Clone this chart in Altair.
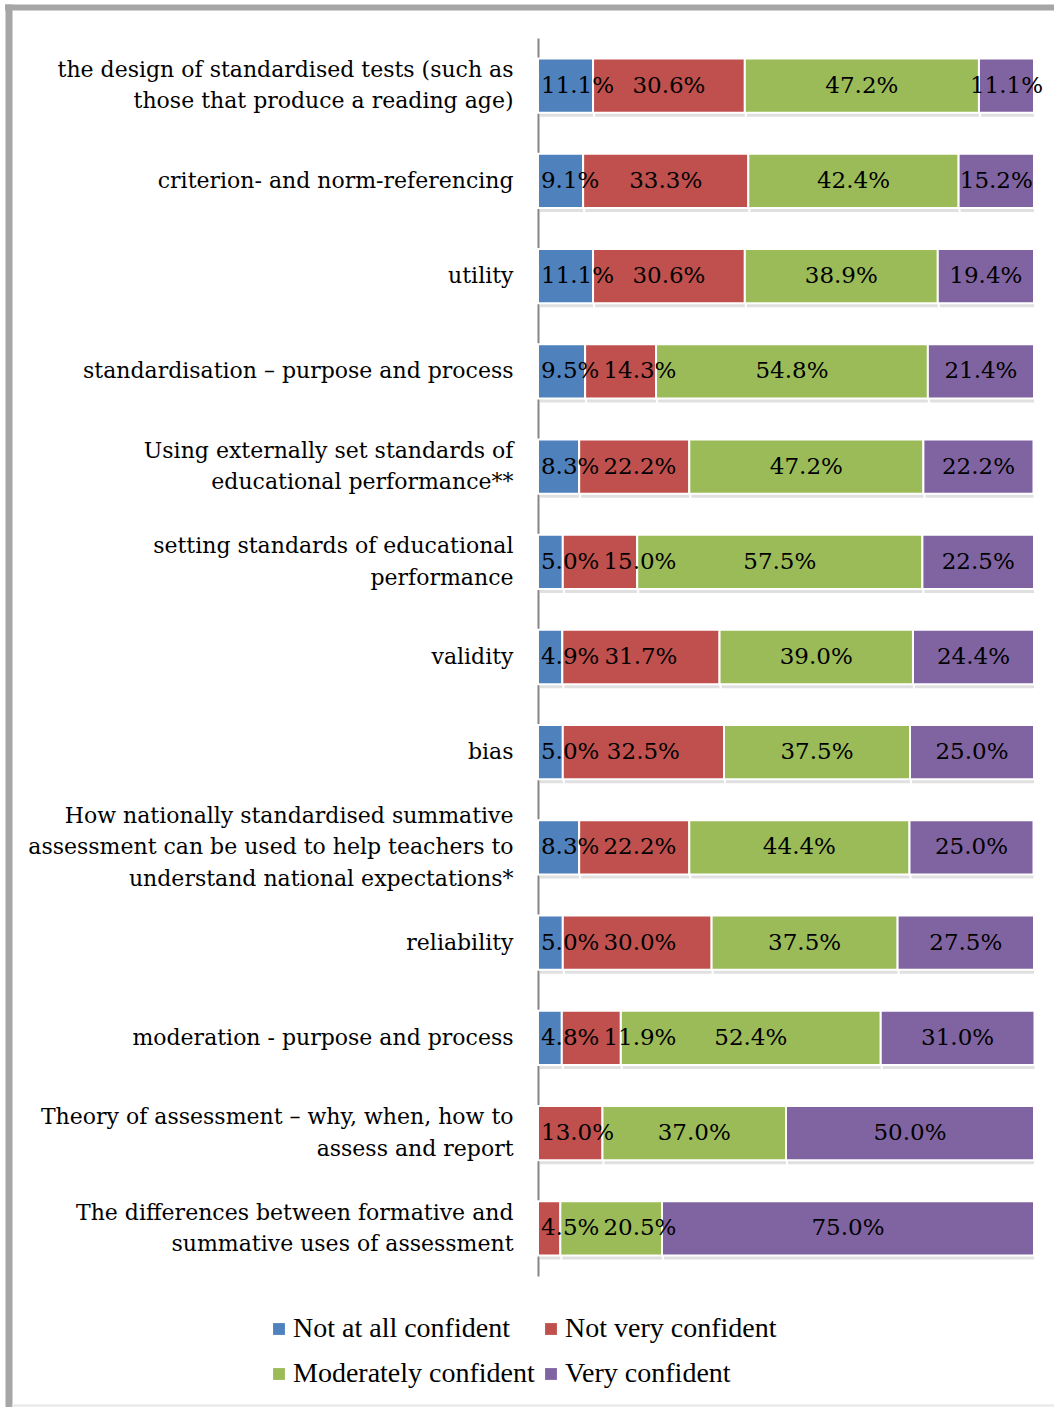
import altair as alt
import pandas as pd

categories = [
    "the design of standardised tests (such as|those that produce a reading age)",
    "criterion- and norm-referencing",
    "utility",
    "standardisation – purpose and process",
    "Using externally set standards of|educational performance**",
    "setting standards of educational|performance",
    "validity",
    "bias",
    "How nationally standardised summative|assessment can be used to help teachers to|understand national expectations*",
    "reliability",
    "moderation - purpose and process",
    "Theory of assessment – why, when, how to|assess and report",
    "The differences between formative and|summative uses of assessment",
]
levels = ["Not at all confident", "Not very confident", "Moderately confident", "Very confident"]
not_at_all = [11.1, 9.1, 11.1, 9.5, 8.3, 5.0, 4.9, 5.0, 8.3, 5.0, 4.8, 0.0, 0.0]
not_very = [30.6, 33.3, 30.6, 14.3, 22.2, 15.0, 31.7, 32.5, 22.2, 30.0, 11.9, 13.0, 4.5]
moderately = [47.2, 42.4, 38.9, 54.8, 47.2, 57.5, 39.0, 37.5, 44.4, 37.5, 52.4, 37.0, 20.5]
very = [11.1, 15.2, 19.4, 21.4, 22.2, 22.5, 24.4, 25.0, 25.0, 27.5, 31.0, 50.0, 75.0]
colors = ["#4F81BD", "#C0504D", "#9BBB59", "#8064A2"]

PLOT_W = 496
LABEL_FONT = "DejaVu Serif"
LABEL_SIZE = 23


def text_px(s):
    # approximate advance widths of DejaVu Serif glyphs (em units)
    w = {".": 0.318, "%": 0.950}
    return sum(w.get(ch, 0.636) for ch in s) * LABEL_SIZE


rows = []
for i, c in enumerate(categories):
    start = 0.0
    prev_right = -1e9
    for j, vals in enumerate([not_at_all, not_very, moderately, very]):
        v = vals[i]
        if v <= 0:
            continue
        label = f"{v:.1f}%"
        # data-label layout: centre in segment, nudge right to avoid bar edge / previous label
        mid_px = (start + v / 2) / 100 * PLOT_W
        half = text_px(label) / 2
        left = mid_px - half
        if start == 0:
            left = max(left, 3)
        left = max(left, prev_right + 4)
        prev_right = left + 2 * half
        rows.append({
            "item": c, "level": levels[j], "order": j, "value": v,
            "label": label, "lx": (left + half) / PLOT_W * 100,
        })
        start += v
df = pd.DataFrame(rows)

FONT = "DejaVu Serif"

base = alt.Chart(df).transform_stack(
    stack="value", groupby=["item"], sort=[alt.SortField("order")], as_=["x0", "x1"]
)

xscale = alt.Scale(domain=[0, 100], nice=False, zero=True)
yenc = alt.Y(
    "item:N",
    sort=categories,
    scale=alt.Scale(paddingInner=0.43, paddingOuter=0.215),
    axis=alt.Axis(
        title=None,
        labelExpr="split(datum.label, '|')",
        labelFont=FONT,
        labelFontSize=22,
        labelColor="black",
        labelPadding=25,
        labelLimit=0,
        labelLineHeight=31.5,
        labelBaseline="middle",
        labelOffset={
            "condition": [
                {"test": "length(split(datum.value, '|')) == 3", "value": -31.5},
                {"test": "length(split(datum.value, '|')) == 2", "value": -15.75},
            ],
            "value": 0,
        },
        ticks=False,
        domain=True,
        domainColor="#868686",
        domainWidth=2,
        grid=False,
    ),
)

shadow = base.mark_bar(color="#000000", opacity=0.12, xOffset=2, yOffset=4).encode(
    x=alt.X("x0:Q", scale=xscale, axis=None),
    x2="x1:Q",
    y=yenc,
)

bars = base.mark_bar(stroke="white", strokeWidth=2).encode(
    x=alt.X("x0:Q", scale=xscale, axis=None),
    x2="x1:Q",
    y=yenc,
    color=alt.Color(
        "level:N",
        sort=levels,
        scale=alt.Scale(domain=levels, range=colors),
        legend=alt.Legend(
            title=None,
            orient="none",
            direction="horizontal",
            legendX=-273,
            legendY=1277,
            columns=2,
            symbolType="square",
            symbolSize=140,
            symbolStrokeWidth=0,
            labelFont="Liberation Serif",
            labelFontSize=28,
            labelColor="black",
            labelOffset=0,
            columnPadding=2,
            rowPadding=17,
            labelLimit=0,
        ),
    ),
)

texts = base.mark_text(font=LABEL_FONT, fontSize=LABEL_SIZE, color="black", baseline="middle").encode(
    x=alt.X("lx:Q", scale=xscale, axis=None),
    y=yenc,
    text="label:N",
)

frame_df = pd.DataFrame({"a": [0]})
frame_top = alt.Chart(frame_df).mark_rule(color="#A6A6A6", strokeWidth=6).encode(
    x=alt.value(-533), x2=alt.value(520), y=alt.value(-30.5)
)
frame_left = alt.Chart(frame_df).mark_rule(color="#A6A6A6", strokeWidth=7).encode(
    x=alt.value(-529), y=alt.value(-33.5), y2=alt.value(1375)
)
frame_bottom = alt.Chart(frame_df).mark_rule(color="#E6E6E6", strokeWidth=2).encode(
    x=alt.value(-526), x2=alt.value(520), y=alt.value(1367.5)
)

chart = alt.layer(frame_top, frame_left, frame_bottom, shadow, bars, texts).properties(
    width=PLOT_W,
    height=1238,
    autosize=alt.AutoSizeParams(type="none"),
    padding={"left": 538, "top": 38, "right": 20, "bottom": 131},
    background="white",
).configure_view(stroke=None)

chart.save("out.html", embed_options={"renderer": "svg", "actions": False})
